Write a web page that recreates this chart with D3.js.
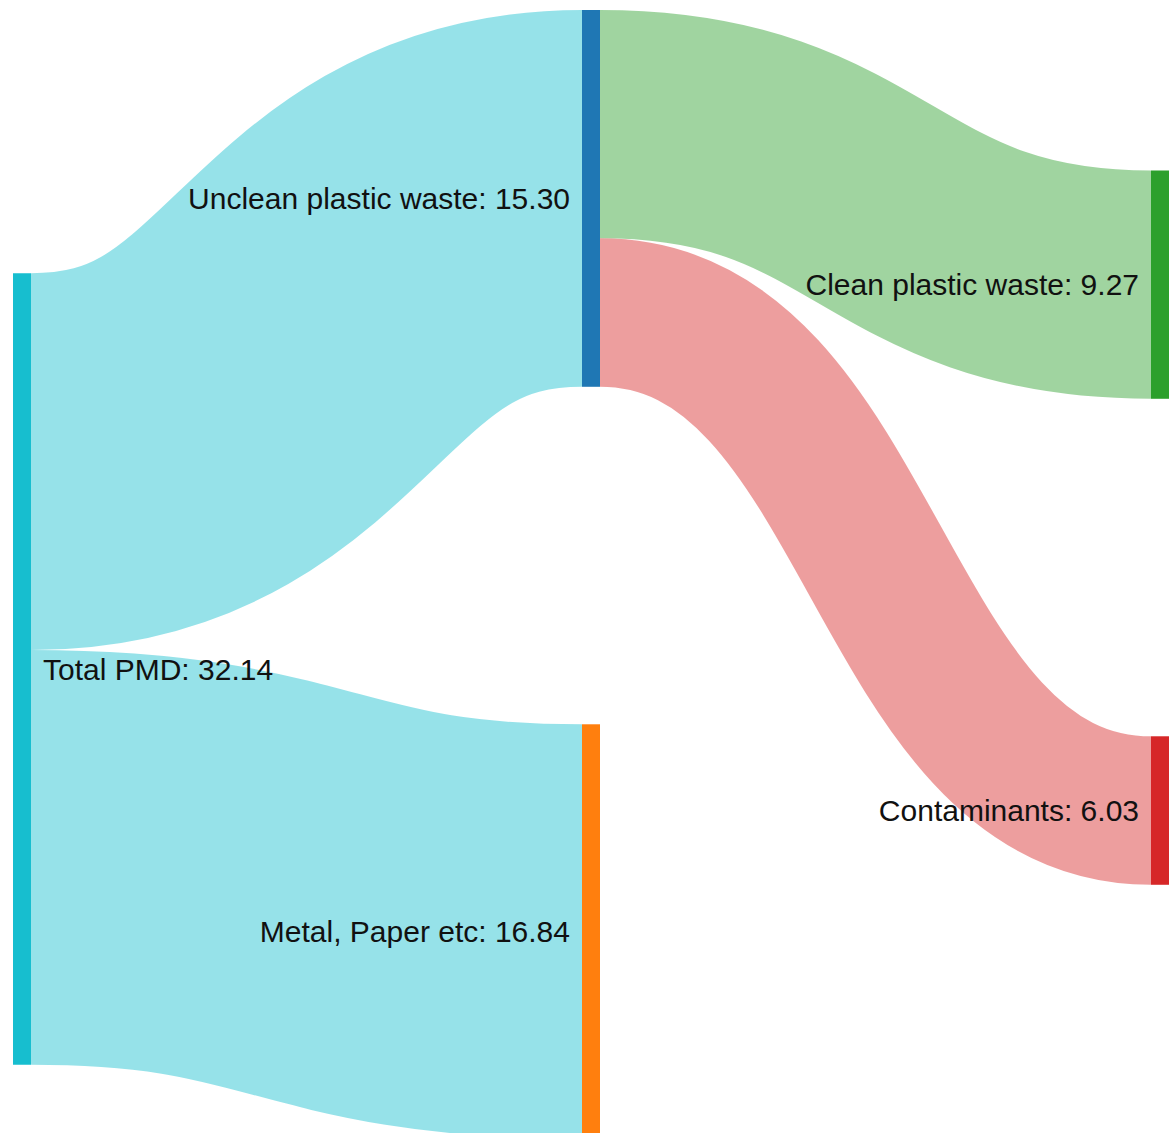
<!DOCTYPE html>
<html>
<head>
<meta charset="utf-8">
<title>PMD waste flows</title>
<script src="https://cdn.jsdelivr.net/npm/d3@7"></script>
<style>
  html, body { margin: 0; padding: 0; background: #fff; overflow: hidden; }
  svg { display: block; }
</style>
</head>
<body>
<svg id="chart"></svg>
<script>
// ---- data -------------------------------------------------------------
const nodeNames = [
  "Total PMD",
  "Unclean plastic waste",
  "Metal, Paper etc",
  "Clean plastic waste",
  "Contaminants"
];
const linkSources = ["Total PMD", "Total PMD", "Unclean plastic waste", "Unclean plastic waste"];
const linkTargets = ["Unclean plastic waste", "Metal, Paper etc", "Clean plastic waste", "Contaminants"];
const linkValues  = [15.30, 16.84, 9.27, 6.03];

// ---- styling / layout settings ----------------------------------------
const width = 1171, height = 1133;
const extent = { x0: 13, x1: 1169, y0: 10, y1: 1139 };
const nodeWidth = 18;
const nodePadding = 337.5;
// share of each column's spare height that sits above its stack of nodes
const columnAlign = [0.78, 0, 0.387];
const nodeColor = d3.scaleOrdinal()
  .domain(nodeNames)
  .range(["#17becf", "#1f77b4", "#ff7f0e", "#2ca02c", "#d62728"]);
const linkOpacity = 0.45;
const labelGap = 12;
const fontSize = 30;

// ---- layout -------------------------------------------------------------
const nodes = nodeNames.map((name, i) => ({ name, index: i, sourceLinks: [], targetLinks: [] }));
const byName = new Map(nodes.map(n => [n.name, n]));
const links = linkValues.map((value, i) => ({
  index: i,
  source: byName.get(linkSources[i]),
  target: byName.get(linkTargets[i]),
  value
}));
links.forEach(l => { l.source.sourceLinks.push(l); l.target.targetLinks.push(l); });
nodes.forEach(n => {
  n.value = Math.max(d3.sum(n.sourceLinks, l => l.value), d3.sum(n.targetLinks, l => l.value));
});

// depth = longest path from a source node
(function assignDepths() {
  let current = new Set(nodes.filter(n => !n.targetLinks.length)), depth = 0;
  while (current.size) {
    const next = new Set();
    current.forEach(n => { n.depth = depth; n.sourceLinks.forEach(l => next.add(l.target)); });
    current = next; depth++;
  }
})();

const nColumns = d3.max(nodes, n => n.depth) + 1;
const columns = d3.range(nColumns).map(c => nodes.filter(n => n.depth === c));

const x = d3.scalePoint()
  .domain(d3.range(nColumns))
  .range([extent.x0, extent.x1 - nodeWidth]);

// one value-to-pixels factor, set by the fullest column
const ky = d3.min(columns, col =>
  (extent.y1 - extent.y0 - (col.length - 1) * nodePadding) / d3.sum(col, n => n.value));
const size = d3.scaleLinear().domain([0, 1]).range([0, ky]);

columns.forEach((col, c) => {
  const stack = d3.sum(col, n => size(n.value)) + (col.length - 1) * nodePadding;
  const spare = extent.y1 - extent.y0 - stack;
  let y = extent.y0 + spare * columnAlign[c];
  col.forEach(n => {
    n.x0 = x(c);
    n.x1 = n.x0 + nodeWidth;
    n.y0 = y;
    n.y1 = y + size(n.value);
    y = n.y1 + nodePadding;
  });
});

// link thickness and attachment points on each node
links.forEach(l => { l.width = size(l.value); });
nodes.forEach(n => {
  n.sourceLinks.sort((a, b) => a.target.y0 - b.target.y0);
  n.targetLinks.sort((a, b) => a.source.y0 - b.source.y0);
  let ys = n.y0, yt = n.y0;
  n.sourceLinks.forEach(l => { l.y0 = ys + l.width / 2; ys += l.width; });
  n.targetLinks.forEach(l => { l.y1 = yt + l.width / 2; yt += l.width; });
});

// ---- drawing ------------------------------------------------------------
const svg = d3.select("#chart")
  .attr("width", width)
  .attr("height", height)
  .attr("viewBox", [0, 0, width, height]);

const linkPath = d3.linkHorizontal()
  .source(l => [l.source.x1, l.y0])
  .target(l => [l.target.x0, l.y1]);

// flows leaving the first column carry their source colour, later ones their destination colour
const linkColor = l => l.source.depth === 0 ? nodeColor(l.source.name) : nodeColor(l.target.name);

svg.append("g")
  .attr("fill", "none")
  .selectAll("path")
  .data(links)
  .join("path")
  .attr("d", linkPath)
  .attr("stroke", linkColor)
  .attr("stroke-opacity", linkOpacity)
  .attr("stroke-width", l => Math.max(1, l.width));

svg.append("g")
  .selectAll("rect")
  .data(nodes)
  .join("rect")
  .attr("x", n => n.x0)
  .attr("y", n => n.y0)
  .attr("width", n => n.x1 - n.x0)
  .attr("height", n => n.y1 - n.y0)
  .attr("fill", n => nodeColor(n.name));

const fmt = d3.format(".2f");
svg.append("g")
  .attr("font-family", "'Liberation Sans', Arial, Helvetica, sans-serif")
  .attr("font-size", fontSize)
  .attr("fill", "#111")
  .selectAll("text")
  .data(nodes)
  .join("text")
  .attr("x", n => n.depth === 0 ? n.x1 + labelGap : n.x0 - labelGap)
  .attr("y", n => (n.y0 + n.y1) / 2)
  .attr("dy", "0.35em")
  .attr("text-anchor", n => n.depth === 0 ? "start" : "end")
  .text(n => `${n.name}: ${fmt(n.value)}`);
</script>
</body>
</html>
